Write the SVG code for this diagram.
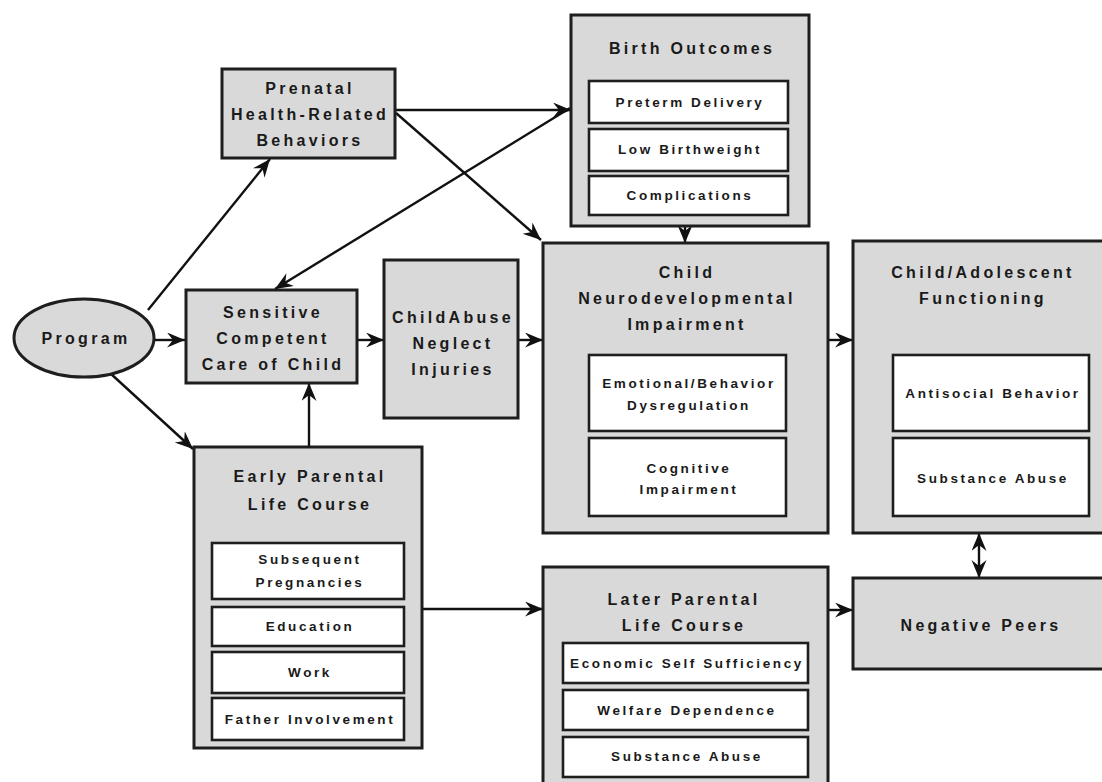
<svg xmlns="http://www.w3.org/2000/svg" width="1102" height="782" viewBox="0 0 1102 782">
<defs>
<style>
.box{fill:#d9d9d9;stroke:#1e1e1e;stroke-width:3}
.in{fill:#ffffff;stroke:#1e1e1e;stroke-width:2.6}
.t{font-family:"Liberation Sans",Arial,sans-serif;font-weight:bold;font-size:16px;letter-spacing:3.3px;fill:#1a1a1a;text-anchor:middle}
.s{font-family:"Liberation Sans",Arial,sans-serif;font-weight:bold;font-size:13.5px;letter-spacing:2.6px;fill:#1a1a1a;text-anchor:middle}
.c{fill:none;stroke:#111;stroke-width:2.4;marker-end:url(#ah)}
</style>
<marker id="ah" markerUnits="userSpaceOnUse" markerWidth="20" markerHeight="16" refX="18" refY="7.5" orient="auto-start-reverse">
<path d="M0,0 L18,7.5 L0,15 L6,7.5 Z" fill="#111"/>
</marker>
</defs>
<rect width="1102" height="782" fill="#ffffff"/>

<g id="connectors">
<path class="c" d="M148,310 L270,159"/>
<path class="c" d="M155,340 L185,340"/>
<path class="c" d="M110,373 L193,449"/>
<path class="c" d="M395,110 L571,110"/>
<path class="c" d="M396,113 L541,240"/>
<path class="c" d="M570,108 L275,289"/>
<path class="c" d="M309,447 L309,383"/>
<path class="c" d="M357,340 L384,340"/>
<path class="c" d="M518,340 L543,340"/>
<path class="c" d="M685,226 L685,243"/>
<path class="c" d="M828,340 L853,340"/>
<path class="c" d="M422,609 L543,609"/>
<path class="c" d="M828,610 L853,610"/>
<path class="c" d="M979,533 L979,578" style="marker-start:url(#ah)"/>
</g>

<g id="program">
<ellipse class="box" cx="84" cy="338" rx="70" ry="39"/>
<text class="t" x="86" y="344">Program</text>
</g>

<g id="prenatal">
<rect class="box" x="222" y="69" width="173" height="89"/>
<text class="t" x="310" y="94">Prenatal</text>
<text class="t" x="310" y="120">Health-Related</text>
<text class="t" x="310" y="146">Behaviors</text>
</g>

<g id="birth-outcomes">
<rect class="box" x="571" y="15" width="238" height="211"/>
<text class="t" x="692" y="54">Birth Outcomes</text>
<rect class="in" x="589" y="81" width="199" height="42"/>
<text class="s" x="690" y="107">Preterm Delivery</text>
<rect class="in" x="589" y="129" width="199" height="42"/>
<text class="s" x="690" y="154">Low Birthweight</text>
<rect class="in" x="589" y="176" width="199" height="39"/>
<text class="s" x="690" y="200">Complications</text>
</g>

<g id="sensitive-care">
<rect class="box" x="186" y="290" width="171" height="93"/>
<text class="t" x="273" y="318">Sensitive</text>
<text class="t" x="273" y="344">Competent</text>
<text class="t" x="273" y="370">Care of Child</text>
</g>

<g id="child-abuse">
<rect class="box" x="384" y="260" width="134" height="158"/>
<text class="t" x="453" y="323">ChildAbuse</text>
<text class="t" x="453" y="349">Neglect</text>
<text class="t" x="453" y="375">Injuries</text>
</g>

<g id="neurodevelopmental">
<rect class="box" x="543" y="243" width="285" height="290"/>
<text class="t" x="687" y="278">Child</text>
<text class="t" x="687" y="304">Neurodevelopmental</text>
<text class="t" x="687" y="330">Impairment</text>
<rect class="in" x="589" y="355" width="197" height="76"/>
<text class="s" x="689" y="388">Emotional/Behavior</text>
<text class="s" x="689" y="410">Dysregulation</text>
<rect class="in" x="589" y="438" width="197" height="78"/>
<text class="s" x="689" y="473">Cognitive</text>
<text class="s" x="689" y="494">Impairment</text>
</g>

<g id="child-adolescent">
<rect class="box" x="853" y="241" width="252" height="292"/>
<text class="t" x="983" y="278">Child/Adolescent</text>
<text class="t" x="983" y="304">Functioning</text>
<rect class="in" x="893" y="355" width="196" height="76"/>
<text class="s" x="993" y="398">Antisocial Behavior</text>
<rect class="in" x="893" y="438" width="196" height="78"/>
<text class="s" x="993" y="483">Substance Abuse</text>
</g>

<g id="negative-peers">
<rect class="box" x="853" y="578" width="252" height="91"/>
<text class="t" x="981" y="631">Negative Peers</text>
</g>

<g id="early-parental">
<rect class="box" x="194" y="447" width="228" height="301"/>
<text class="t" x="310" y="482">Early Parental</text>
<text class="t" x="310" y="510">Life Course</text>
<rect class="in" x="212" y="543" width="192" height="56"/>
<text class="s" x="310" y="564">Subsequent</text>
<text class="s" x="310" y="587">Pregnancies</text>
<rect class="in" x="212" y="607" width="192" height="39"/>
<text class="s" x="310" y="631">Education</text>
<rect class="in" x="212" y="652" width="192" height="41"/>
<text class="s" x="310" y="677">Work</text>
<rect class="in" x="212" y="698" width="192" height="42"/>
<text class="s" x="310" y="724">Father Involvement</text>
</g>

<g id="later-parental">
<rect class="box" x="543" y="567" width="285" height="225"/>
<text class="t" x="684" y="605">Later Parental</text>
<text class="t" x="684" y="631">Life Course</text>
<rect class="in" x="563" y="643" width="245" height="40"/>
<text class="s" x="687" y="668">Economic Self Sufficiency</text>
<rect class="in" x="563" y="690" width="245" height="40"/>
<text class="s" x="687" y="715">Welfare Dependence</text>
<rect class="in" x="563" y="737" width="245" height="40"/>
<text class="s" x="687" y="761">Substance Abuse</text>
</g>
</svg>
